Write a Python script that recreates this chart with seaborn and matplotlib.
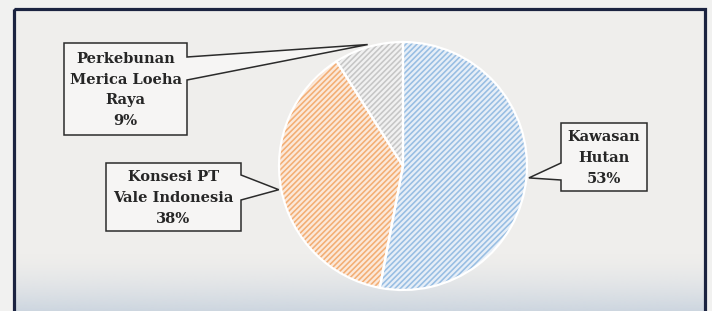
import numpy as np
import matplotlib
matplotlib.use("Agg")
import matplotlib.pyplot as plt
import seaborn as sns
from matplotlib.patches import Polygon, Rectangle
from matplotlib.colors import to_rgb

# ---- data ----
categories = ["Kawasan\nHutan", "Konsesi PT\nVale Indonesia", "Perkebunan\nMerica Loeha\nRaya"]
shares = [53, 38, 9]
pct_labels = ["53%", "38%", "9%"]
stripe_colors = ["#98bee3", "#f3ae74", "#c6c6c6"]
fill_colors = ["#e6eef7", "#fbe8d9", "#f1f1f1"]

sns.set_theme(style="white")
plt.rcParams['font.family'] = ['DejaVu Serif', 'DejaVu Sans']
plt.rcParams['hatch.linewidth'] = 1.15

W, H = 712, 311
fig = plt.figure(figsize=(7.12, 3.11), dpi=100)
fig.patch.set_facecolor('#f1f1f0')

# background panel
bg = fig.add_axes([0, 0, 1, 1])
bg.axis('off')
bg.add_patch(Rectangle((14, 9), 691, 320, facecolor='#efeeec', edgecolor='none', zorder=0))
grad = np.zeros((100, 1, 4))
grad[:, 0, :3] = to_rgb('#c3cfdc')
grad[:, 0, 3] = np.linspace(0, 0.85, 100) ** 1.6
bg.imshow(grad, extent=(14, 705, 311, 252), aspect='auto', zorder=1, interpolation='bilinear')
bg.add_patch(Rectangle((14, 9), 691, 330, facecolor='none', edgecolor='#1b2340', lw=2.3, zorder=2))
bg.set_xlim(0, W)
bg.set_ylim(H, 0)

# pie axes
cx, cy, R = 403, 166, 124
ax = fig.add_axes([0, 0, 1, 1])
ax.patch.set_alpha(0)
wedges, _ = ax.pie(shares, colors=fill_colors, startangle=90, counterclock=False,
                   wedgeprops=dict(linewidth=0))
for w, sc in zip(wedges, stripe_colors):
    w.set_hatch('//////')
    w.set_edgecolor(sc)
    w.set_linewidth(0)
ax.pie(shares, colors=['none'] * 3, startangle=90, counterclock=False,
       wedgeprops=dict(edgecolor='white', linewidth=1.6, fill=False))
ax.set_xlim(-cx / R, (W - cx) / R)
ax.set_ylim((cy - H) / R, cy / R)
ax.set_aspect('auto')
ax.axis('off')


def P(x, y):
    return ((x - cx) / R, (cy - y) / R)


# callout geometry in pixel space (layout)
boxes = [
    dict(rect=(561, 123, 647, 191), side='left', base=(163, 180)),
    dict(rect=(106, 163, 241, 231), side='right', base=(175, 200)),
    dict(rect=(64, 43, 187, 135), side='right', base=(57, 80)),
]

for w, cat, pct, b in zip(wedges, categories, pct_labels, boxes):
    th = np.deg2rad((w.theta1 + w.theta2) / 2)
    tip = (1.02 * np.cos(th), 1.02 * np.sin(th))
    x0, y0, x1, y1 = b['rect']
    ya, yb = b['base']
    if b['side'] == 'right':
        pts = [P(x0, y0), P(x1, y0), P(x1, ya), tip, P(x1, yb), P(x1, y1), P(x0, y1)]
    else:
        pts = [P(x0, y0), P(x1, y0), P(x1, y1), P(x0, y1), P(x0, yb), tip, P(x0, ya)]
    ax.add_patch(Polygon(pts, closed=True, facecolor='#f6f5f4', edgecolor='#2b2b2b',
                         lw=1.1, zorder=5))
    tx, ty = P((x0 + x1) / 2, (y0 + y1) / 2 + 1)
    ax.text(tx, ty, cat + "\n" + pct, ha='center', va='center', fontsize=10.5,
            fontweight='bold', color='#262626', linespacing=1.6, zorder=6)

fig.savefig('out.png', dpi=100, facecolor=fig.get_facecolor())
